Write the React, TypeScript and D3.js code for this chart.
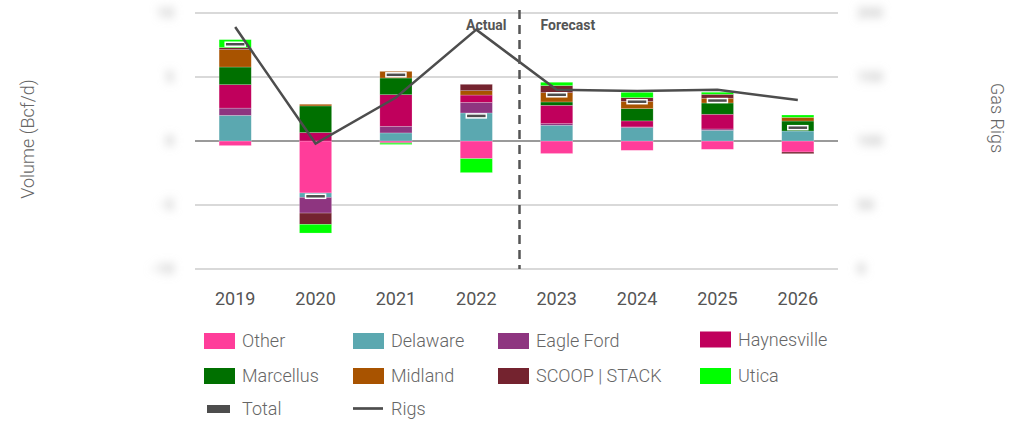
import React from 'react';
import * as d3 from 'd3';

// categories
const years = ['2019', '2020', '2021', '2022', '2023', '2024', '2025', '2026'];

// production change by basin, Bcf/d
const other = [-0.36, -4.06, -0.12, -1.38, -0.98, -0.73, -0.65, -0.86];
const delaware = [2.0, -0.34, 0.63, 2.19, 1.23, 1.05, 0.84, 0.78];
const eagleFord = [0.57, -1.23, 0.52, 0.83, 0.13, 0.05, 0.1, 0.0];
const haynesville = [1.83, 0.66, 2.47, 0.57, 1.43, 0.47, 1.15, 0.0];
const marcellus = [1.38, 2.08, 1.3, 0.0, 0.26, 0.96, 0.88, 0.78];
const midland = [1.36, 0.13, 0.52, 0.34, 0.73, 0.57, 0.37, 0.29];
const scoopStack = [0.16, -0.88, -0.05, 0.5, 0.55, 0.29, 0.31, -0.13];
const utica = [0.62, -0.68, -0.1, -1.09, 0.26, 0.41, 0.16, 0.18];

// gas rigs (right axis)
const rigs = [189, 98, 134, 187, 140, 139, 140, 132];

// axis ticks
const leftTicks = [10, 5, 0, -5, -10];
const rightTicks = [200, 150, 100, 50, 0];

const seriesNames = ['Other', 'Delaware', 'Eagle Ford', 'Haynesville', 'Marcellus', 'Midland', 'SCOOP | STACK', 'Utica'];
const seriesValues = [other, delaware, eagleFord, haynesville, marcellus, midland, scoopStack, utica];
const seriesColors = ['#FF3D9A', '#5BA8B0', '#8E3580', '#C0005C', '#007000', '#A85300', '#74232F', '#00FF00'];

const W = 1023, H = 421;
const margin = { top: 13, right: 185, bottom: 152, left: 195 };
const font = 'Roboto, "Noto Sans", sans-serif';

export default function App() {
  const x = d3.scaleBand().domain(years).range([margin.left, W - margin.right]).paddingInner(0.6).paddingOuter(0.3);
  const y = d3.scaleLinear().domain([-10, 10]).range([H - margin.bottom, margin.top]);
  const yR = d3.scaleLinear().domain([0, 200]).range([H - margin.bottom, margin.top]);
  const band = d3.scaleBand().domain(years).range([margin.left, W - margin.right]);

  const rows = years.map((yr, i) => {
    const r: any = { year: yr };
    seriesNames.forEach((n, k) => { r[n] = seriesValues[k][i]; });
    return r;
  });
  const stack = d3.stack().keys(seriesNames).offset(d3.stackOffsetDiverging);
  const layers = stack(rows);
  const totals = years.map((_, i) => d3.sum(seriesValues, s => s[i]));

  const line = d3.line<number>()
    .x((_, i) => (band(years[i]) as number) + band.bandwidth() / 2)
    .y(d => yR(d));

  const splitX = band('2023') as number + 3;
  const legendCols = [204, 353, 498, 700];
  const legendRows = [333, 368];

  return (
    <div style={{ position: 'absolute', left: 0, top: 0 }}>
      <svg width={W} height={H} style={{ display: 'block', background: '#fff' }}>
        <defs>
          <filter id="blur" x="-50%" y="-80%" width="200%" height="260%">
            <feGaussianBlur stdDeviation="4" />
          </filter>
        </defs>

        {/* grid */}
        {leftTicks.map(t => (
          <line key={t} x1={margin.left} x2={W - margin.right} y1={y(t)} y2={y(t)}
            stroke={t === 0 ? '#9a9a9a' : '#cccccc'} strokeWidth={t === 0 ? 2 : 1.5} />
        ))}

        {/* tick labels (blurred in the source) */}
        <g filter="url(#blur)" fontFamily={font} fontSize={15} fontWeight={700} fill="#c4c4c4">
          {leftTicks.map(t => (
            <text key={t} x={174} y={y(t)} dy="0.35em" textAnchor="end">{t}</text>
          ))}
          {rightTicks.map(t => (
            <text key={t} x={857} y={yR(t)} dy="0.35em" textAnchor="start">{t}</text>
          ))}
        </g>

        {/* stacked bars */}
        {layers.map((layer, k) => (
          <g key={seriesNames[k]} fill={seriesColors[k]}>
            {layer.map((d, i) => {
              const h = Math.abs(y(d[0]) - y(d[1]));
              if (h < 0.01) return null;
              return (
                <rect key={i} x={x(years[i])} width={x.bandwidth()}
                  y={Math.min(y(d[0]), y(d[1]))} height={h}
                  stroke="#ffffff" strokeOpacity={0.35} strokeWidth={0.6} />
              );
            })}
          </g>
        ))}

        {/* totals */}
        {totals.map((t, i) => (
          <rect key={i} x={(x(years[i]) as number) + x.bandwidth() / 2 - 10} y={y(t) - 2}
            width={20} height={4} fill="#4d4d4d" stroke="#ffffff" strokeWidth={1.5} />
        ))}

        {/* rigs */}
        <path d={line(rigs) || ''} fill="none" stroke="#4d4d4d" strokeWidth={2.5} />

        {/* actual / forecast split */}
        <line x1={splitX} x2={splitX} y1={10} y2={y(-10)} stroke="#555" strokeWidth={2.5} strokeDasharray="9,6" />
        <text x={splitX - 13} y={30} textAnchor="end" fontFamily={font} fontWeight="bold" fontSize={14} fill="#555">Actual</text>
        <text x={splitX + 21} y={30} textAnchor="start" fontFamily={font} fontWeight="bold" fontSize={14} fill="#555">Forecast</text>

        {/* x axis labels */}
        {years.map(yr => (
          <text key={yr} x={(band(yr) as number) + band.bandwidth() / 2} y={305} textAnchor="middle"
            fontFamily={font} fontSize={18} fill="#555">{yr}</text>
        ))}

        {/* axis titles */}
        <text transform={`translate(34,139) rotate(-90)`} textAnchor="middle" fontFamily={font} fontWeight={300} fontSize={18} fill="#666">Volume (Bcf/d)</text>
        <text transform={`translate(991,118) rotate(90)`} textAnchor="middle" fontFamily={font} fontWeight={300} fontSize={18} fill="#666">Gas Rigs</text>

        {/* legend */}
        <g fontFamily={font} fontWeight={300} fontSize={18} fill="#666">
          {seriesNames.map((n, k) => {
            const cx = legendCols[k % 4];
            const cy = legendRows[Math.floor(k / 4)] - (k === 3 ? 1.5 : 0);
            return (
              <g key={n}>
                <rect x={cx} y={cy} width={31} height={16} fill={seriesColors[k]} />
                <text x={cx + 38} y={cy + 8} dy="0.35em">{n}</text>
              </g>
            );
          })}
          <rect x={207} y={405} width={23} height={8} fill="#4d4d4d" />
          <text x={242} y={409} dy="0.35em">Total</text>
          <line x1={353} x2={383} y1={408.5} y2={408.5} stroke="#4d4d4d" strokeWidth={2.7} />
          <text x={391} y={409} dy="0.35em">Rigs</text>
        </g>
      </svg>
    </div>
  );
}
